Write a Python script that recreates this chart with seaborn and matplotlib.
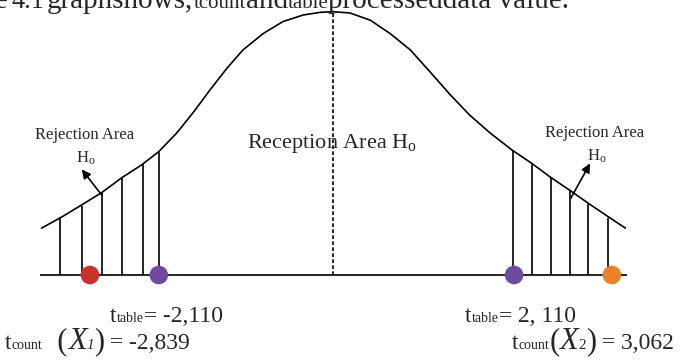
import matplotlib
matplotlib.use("Agg")
import matplotlib.pyplot as plt
import seaborn as sns
from matplotlib.offsetbox import TextArea, HPacker, AnnotationBbox

# bell curve: t value vs. height
curve_t = [-3.43, -3.19, -2.96, -2.72, -2.49, -2.25, -2.05, -1.84, -1.64, -1.45,
           -1.25, -1.06, -0.82, -0.59, -0.35, -0.15, 0.00, 0.20, 0.44, 0.67,
           0.91, 1.14, 1.38, 1.61, 1.85, 2.11, 2.34, 2.56, 2.79, 3.00, 3.23, 3.44]
curve_h = [0.071, 0.088, 0.106, 0.125, 0.147, 0.167, 0.187, 0.215, 0.247, 0.280,
           0.313, 0.341, 0.366, 0.384, 0.394, 0.398, 0.399, 0.397, 0.386, 0.366,
           0.341, 0.308, 0.273, 0.242, 0.215, 0.189, 0.169, 0.148, 0.128, 0.109, 0.089, 0.071]

# hatch strokes in the two rejection tails
hatch_t = [-3.21, -2.95, -2.72, -2.48, -2.24, -2.05, 2.12, 2.34, 2.56, 2.79, 3.00, 3.24]
hatch_h = [0.088, 0.105, 0.124, 0.147, 0.168, 0.187, 0.188, 0.170, 0.148, 0.127, 0.108, 0.086]

axis_t = [-3.45, 3.46]
center_t = 0.0

# marked t values
dot_t = [-2.86, -2.05, 2.13, 3.28]
dot_name = ["tcount X1", "ttable low", "ttable high", "tcount X2"]
dot_color = ["#c8322d", "#6e4ba0", "#6e4ba0", "#eb8228"]

sns.set_theme(style="white")
plt.rcParams["font.family"] = ["Liberation Serif", "DejaVu Serif"]
plt.rcParams["mathtext.fontset"] = "custom"
plt.rcParams["mathtext.rm"] = "Liberation Serif"
plt.rcParams["mathtext.it"] = "Liberation Serif:italic"

fig = plt.figure(figsize=(6.85, 3.62), dpi=100)
ax = fig.add_axes([0, 0, 1, 1])
ax.set_xlim(-3.918, 4.141)
ax.set_ylim(-0.1318, 0.4167)
ax.axis("off")

sns.lineplot(x=curve_t, y=curve_h, color="black", lw=1.2, ax=ax)
ax.vlines(hatch_t, 0, hatch_h, color="black", lw=1.2)
ax.hlines(0, axis_t[0], axis_t[1], color="black", lw=1.2)
ax.vlines(center_t, 0, max(curve_h), color="black", lw=1.2,
          linestyles=(0, (2.2, 1.4)))

sns.scatterplot(x=dot_t, y=[0] * len(dot_t), hue=dot_name,
                palette=dict(zip(dot_name, dot_color)), s=180,
                edgecolor="none", legend=False, zorder=5, ax=ax)

# region labels
ax.text(-2.918, 0.2056, "Rejection Area", fontsize=12, ha="center", va="baseline")
ax.text(-2.906, 0.170, r"$\mathrm{H_o}$", fontsize=12, ha="center", va="baseline")
ax.text(3.082, 0.2086, "Rejection Area", fontsize=12, ha="center", va="baseline")
ax.text(3.106, 0.174, r"$\mathrm{H_o}$", fontsize=12, ha="center", va="baseline")
ax.text(-0.01, 0.1924, r"Reception Area $\mathrm{H_o}$", fontsize=16,
        ha="center", va="baseline")

arrow = dict(arrowstyle="-|>", color="black", lw=1.2, mutation_scale=13,
             shrinkA=0, shrinkB=0)
ax.annotate("", xy=(-2.956, 0.160), xytext=(-2.72, 0.121), arrowprops=arrow)
ax.annotate("", xy=(3.024, 0.169), xytext=(2.796, 0.116), arrowprops=arrow)


def label(pieces, x, y):
    boxes = [TextArea(s, textprops=dict(fontsize=fs, fontstyle=st,
                                        family="Liberation Serif"))
             for s, fs, st in pieces]
    pack = HPacker(children=boxes, align="baseline", pad=0, sep=0)
    ab = AnnotationBbox(pack, (x, y), xycoords="figure pixels",
                        box_alignment=(0, 0), frameon=False, pad=0)
    ax.add_artist(ab)


n, i = "normal", "italic"
label([("t", 17, n), ("table", 10, n), ("=", 17, n), (" -2,110", 17, n)], 110, 35)
label([("t", 17, n), ("count", 10, n), ("  (", 22, n), ("X", 22, i), ("1", 11, i),
       (")", 22, n), (" = -2,839", 17, n)], 5, 6)
label([("t", 17, n), ("table", 10, n), ("=", 17, n), (" 2, 110", 17, n)], 465, 35)
label([("t", 17, n), ("count", 10, n), ("(", 22, n), ("X", 22, i), ("2", 11, n),
       (")", 22, n), (" = 3,062", 17, n)], 512, 6)

# caption line cut off by the top edge
label([("e", 21, n)], -5, 348)
label([("4.1", 19, n)], 11, 349)
label([("graphshows,", 21, n), ("tcount", 15, n), ("and", 21, n), ("table", 15, n),
       ("processeddata value.", 21, n)], 47, 348)

fig.savefig("out.png", dpi=100)
